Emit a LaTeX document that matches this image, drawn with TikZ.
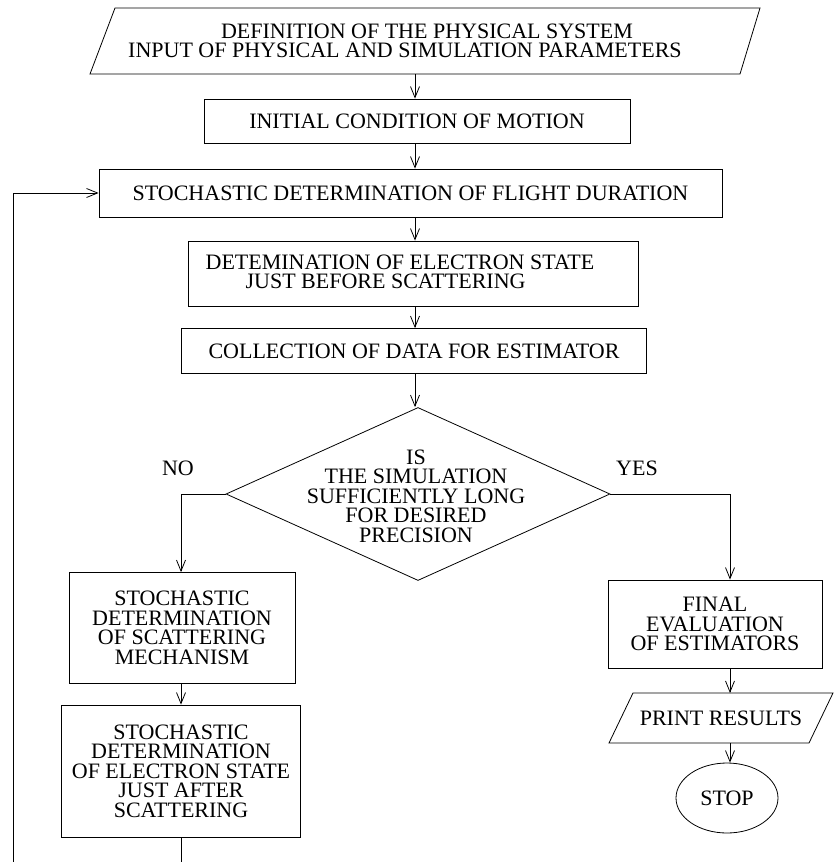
\documentclass[tikz,border=0pt]{standalone}
\usepackage{fontspec}
\setmainfont{Liberation Serif}
\usetikzlibrary{arrows.meta,shapes.geometric}
\begin{document}
\begin{tikzpicture}[x=1pt,y=-1pt,
  every node/.style={font=\fontsize{22}{19.5}\selectfont, align=center, inner sep=0pt},
  box/.style={draw, line width=0.8pt, rectangle},
  ln/.style={line width=0.8pt},
  arr/.style={line width=0.8pt, -{Straight Barb[length=11pt,width=9pt]}}]
\useasboundingbox (0,0) rectangle (835,862);
% input parallelogram
\draw[ln] (115,8) -- (760,8) -- (740,74) -- (90,74) -- cycle;
\node (inp) at (405,41) {\hspace*{44pt}DEFINITION OF THE PHYSICAL SYSTEM\\INPUT OF PHYSICAL AND SIMULATION PARAMETERS};
\coordinate (inpb) at (415,74);
% main column
\node[box, minimum width=426pt, minimum height=44pt] (init) at (417,121) {INITIAL CONDITION OF MOTION};
\node[box, minimum width=623pt, minimum height=48pt] (flight) at (410.5,193) {STOCHASTIC DETERMINATION OF FLIGHT DURATION};
\node[box, minimum width=450pt, minimum height=65pt] (before) at (413.5,273.5) {};
\node[align=left] (beforet) at (400,272) {DETEMINATION OF ELECTRON STATE\\\hspace*{40pt}JUST BEFORE SCATTERING};
\node[box, minimum width=465pt, minimum height=45pt] (collect) at (414,351) {COLLECTION OF DATA FOR ESTIMATOR};
\node[draw, ln, diamond, aspect=2.2, minimum width=384pt, minimum height=173pt] (dec) at (418,494) {};
\node (dect) at (416,496) {IS\\THE SIMULATION\\SUFFICIENTLY LONG\\FOR DESIRED\\PRECISION};
\node (no) at (178,468) {NO};
\node (yes) at (637,468) {YES};
% left branch
\node[box, minimum width=226pt, minimum height=111pt] (mech) at (182,628) {STOCHASTIC\\DETERMINATION\\OF SCATTERING\\MECHANISM};
\node[box, minimum width=239pt, minimum height=132pt] (after) at (181,771) {STOCHASTIC\\DETERMINATION\\OF ELECTRON STATE\\JUST AFTER\\SCATTERING};
\coordinate (afterend) at (181,862);
\coordinate (loopb) at (13,862);
% right branch
\node[box, minimum width=214pt, minimum height=88pt] (final) at (715,624) {FINAL\\EVALUATION\\OF ESTIMATORS};
\draw[ln] (633,693) -- (833,693) -- (809,743) -- (609,743) -- cycle;
\node (print) at (721,718) {PRINT RESULTS};
\coordinate (printt) at (730,693);
\coordinate (printb) at (730,743);
\node[draw, ln, ellipse, minimum width=102pt, minimum height=70pt] (stop) at (727,798) {STOP};
% connectors
\draw[arr] (inpb) -- (inpb |- init.north);
\draw[arr] (inpb |- init.south) -- (inpb |- flight.north);
\draw[arr] (inpb |- flight.south) -- (inpb |- before.north);
\draw[arr] (inpb |- before.south) -- (inpb |- collect.north);
\draw[arr] (inpb |- collect.south) -- (inpb |- dec.north);
\draw[arr] (dec.west) -| (afterend |- mech.north);
\draw[arr] (afterend |- mech.south) -- (afterend |- after.north);
\draw[ln] (afterend |- after.south) -- (afterend);
\draw[arr] (loopb) |- (flight.west);
\draw[arr] (dec.east) -| (final.north -| printt);
\draw[arr] (final.south -| printt) -- (printt);
\draw[arr] (printb) -- (printb |- stop.north);
\end{tikzpicture}
\end{document}
